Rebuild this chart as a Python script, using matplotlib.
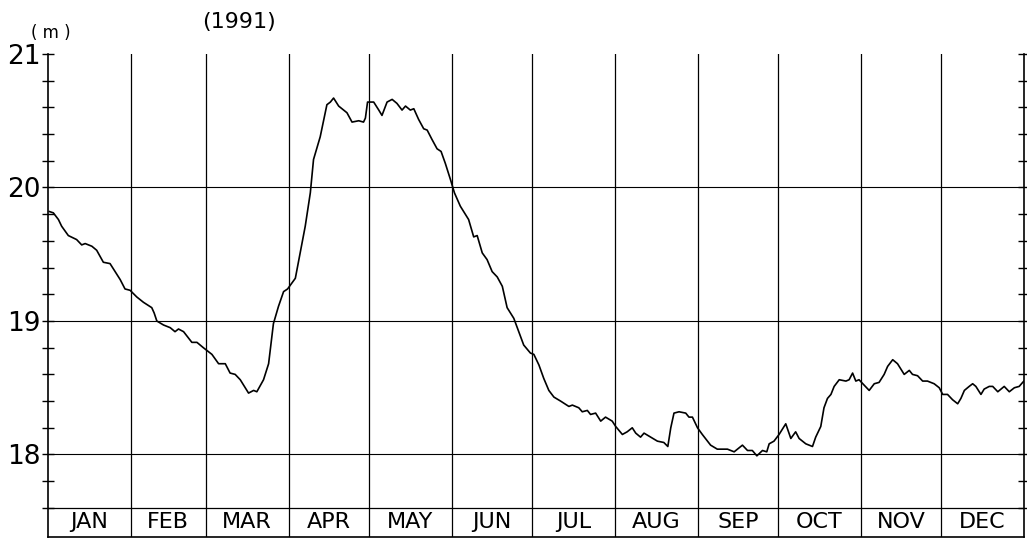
import numpy as np
import matplotlib.pyplot as plt

# water level, 1991 (day of year, metres)
days = [0.5, 2.0, 3.9, 5.1, 7.6, 10.7, 12.6, 13.9, 16.4, 18.2, 20.7, 23.2, 25.1, 27.0, 28.8,
        30.7, 33.2, 35.7, 38.8, 39.7, 40.7, 43.2, 45.7, 47.5, 48.8, 50.7, 53.8, 55.7, 58.1,
        61.3, 63.8, 66.3, 68.1, 70.0, 71.9, 75.0, 76.9, 78.1, 80.6, 82.5, 83.7, 84.3, 86.2,
        88.1, 89.6, 92.5, 94.3, 96.2, 98.1, 99.3, 101.8, 104.3, 105.6, 106.8, 108.7, 111.8,
        113.7, 116.2, 118.0, 118.7, 119.5, 121.8, 123.7, 124.9, 126.8, 128.7, 130.5, 132.4,
        133.7, 135.5, 136.8, 138.6, 140.5, 141.8, 143.6, 145.5, 147.0, 148.6, 150.5, 152.0,
        154.2, 157.3, 159.2, 160.5, 162.4, 164.2, 166.1, 168.0, 169.9, 171.7, 174.2, 175.5,
        177.9, 180.4, 181.7, 183.6, 185.4, 187.3, 189.2, 191.7, 194.8, 196.1, 198.5, 199.8,
        201.7, 202.9, 204.8, 206.7, 208.5, 211.0, 212.3, 214.8, 216.6, 218.5, 219.8, 221.6,
        222.9, 225.4, 227.9, 230.3, 231.8, 232.9, 234.1, 236.0, 238.5, 239.7, 241.0, 242.9,
        244.7, 247.8, 250.3, 254.1, 256.6, 259.7, 261.6, 263.4, 265.1, 267.2, 268.8, 269.7,
        271.5, 273.4, 275.9, 277.8, 279.6, 280.9, 283.4, 285.9, 287.1, 289.0, 290.2, 291.5,
        292.8, 294.0, 295.9, 298.4, 299.6, 300.9, 302.1, 303.3, 305.2, 307.1, 309.0, 310.8,
        312.7, 314.0, 315.9, 317.7, 320.2, 322.1, 323.3, 325.2, 327.1, 328.9, 331.4, 333.3,
        334.6, 336.4, 338.3, 340.2, 341.4, 342.7, 344.5, 345.8, 347.0, 348.9, 350.1, 352.0,
        353.3, 355.2, 357.6, 359.5, 361.4, 363.2, 364.5, 365.0]
level = [19.82, 19.81, 19.76, 19.71, 19.64, 19.61, 19.57, 19.58, 19.56, 19.53, 19.44, 19.43,
         19.37, 19.31, 19.24, 19.23, 19.18, 19.14, 19.10, 19.06, 19.00, 18.97, 18.95, 18.92,
         18.94, 18.92, 18.84, 18.84, 18.80, 18.75, 18.68, 18.68, 18.61, 18.60, 18.56, 18.46,
         18.48, 18.47, 18.56, 18.68, 18.88, 18.98, 19.11, 19.22, 19.24, 19.32, 19.51, 19.71,
         19.96, 20.21, 20.38, 20.62, 20.64, 20.67, 20.61, 20.56, 20.49, 20.50, 20.49, 20.52,
         20.64, 20.64, 20.58, 20.54, 20.64, 20.66, 20.63, 20.58, 20.61, 20.58, 20.59, 20.51,
         20.44, 20.43, 20.36, 20.29, 20.27, 20.18, 20.06, 19.96, 19.86, 19.76, 19.63, 19.64,
         19.51, 19.46, 19.37, 19.33, 19.26, 19.10, 19.02, 18.95, 18.82, 18.76, 18.75, 18.67,
         18.57, 18.48, 18.43, 18.40, 18.36, 18.37, 18.35, 18.32, 18.33, 18.30, 18.31, 18.25,
         18.28, 18.25, 18.21, 18.15, 18.17, 18.20, 18.16, 18.13, 18.16, 18.13, 18.10, 18.09,
         18.06, 18.20, 18.31, 18.32, 18.31, 18.28, 18.28, 18.20, 18.15, 18.07, 18.04, 18.04,
         18.02, 18.07, 18.03, 18.03, 17.99, 18.03, 18.02, 18.08, 18.10, 18.15, 18.23, 18.12,
         18.17, 18.12, 18.08, 18.06, 18.13, 18.21, 18.35, 18.42, 18.45, 18.51, 18.56, 18.55,
         18.56, 18.61, 18.55, 18.56, 18.52, 18.48, 18.53, 18.54, 18.60, 18.66, 18.71, 18.68,
         18.60, 18.63, 18.60, 18.59, 18.55, 18.55, 18.53, 18.50, 18.45, 18.45, 18.41, 18.38,
         18.42, 18.48, 18.51, 18.53, 18.51, 18.45, 18.49, 18.51, 18.51, 18.47, 18.51, 18.47,
         18.50, 18.51, 18.54, 18.55]

months = ["JAN", "FEB", "MAR", "APR", "MAY", "JUN", "JUL", "AUG", "SEP", "OCT", "NOV", "DEC"]
month_start = [0, 31, 59, 90, 120, 151, 181, 212, 243, 273, 304, 334, 365]

ymin, ymax = 17.382, 21.0
strip_top = 17.6

fig = plt.figure(figsize=(10.27, 5.4), dpi=100)
ax = fig.add_axes([48/1027, 3/540, 976/1027, 483/540])
ax.set_xlim(0, 365)
ax.set_ylim(ymin, ymax)

# grid
for m in month_start[1:-1]:
    ax.axvline(m, color='black', lw=0.9)
for v in [18, 19, 20]:
    ax.axhline(v, color='black', lw=0.8)
ax.axhline(strip_top, color='black', lw=0.9)

ax.plot(days, level, color='black', lw=1.2)

# month names in the strip under the plot
for i, name in enumerate(months):
    mid = (month_start[i] + month_start[i+1]) / 2
    ax.text(mid, (ymin + strip_top) / 2, name, ha='center', va='center', fontsize=16)

ax.spines['top'].set_visible(False)
for s in ['left', 'right', 'bottom']:
    ax.spines[s].set_linewidth(1.2)

ax.set_xticks([])
ax.set_yticks([18, 19, 20, 21])
ax.set_yticklabels(['18', '19', '20', '21'], fontsize=19)
ax.set_yticks(np.arange(17.6, 21.0, 0.2), minor=True)
ax.tick_params(axis='y', which='both', direction='inout', left=True, right=True,
               length=9, width=1.0, pad=1)
ax.tick_params(axis='y', which='minor', labelleft=False)

fig.text(51/1027, 1 - 33/540, "( m )", ha='center', va='center', fontsize=12)
fig.text(239/1027, 1 - 22/540, "(1991)", ha='center', va='center', fontsize=16)

fig.savefig("out.png", dpi=100)
